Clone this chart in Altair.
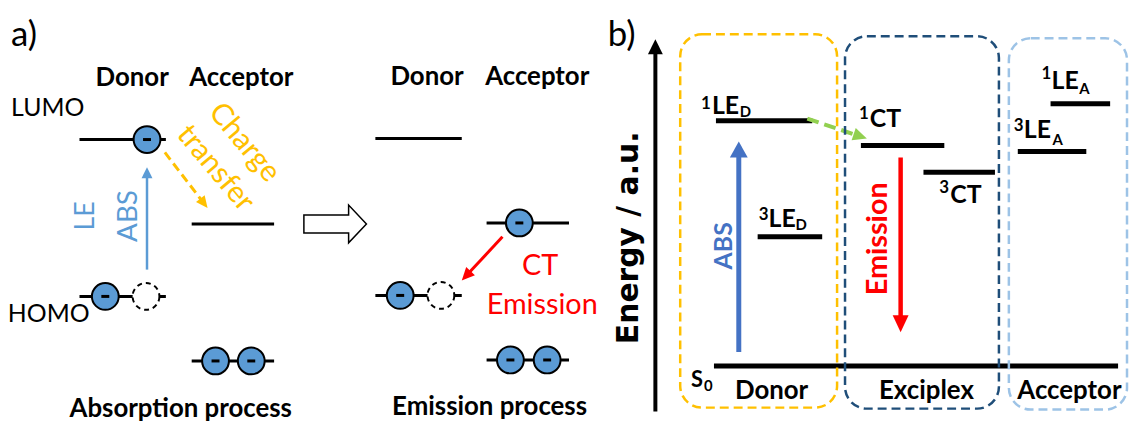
import math
import altair as alt
import pandas as pd

# ---------------- data (pixel-like diagram coordinates) ----------------
# energy-level bars
level_x1 = [80, 193, 80, 193, 378, 490, 378, 490, 721, 763, 867, 930, 1058, 1025, 719]
level_x2 = [167, 276, 167, 276, 465, 573, 465, 573, 818, 828, 951, 1002, 1118, 1094, 1126]
level_y = [139, 224, 297, 362, 138, 223, 296, 361, 120, 237, 145, 172, 103, 151, 367]
level_w = [3, 3, 3, 3, 3, 3, 3, 3, 5, 5, 5, 5, 5, 5, 5]

# electrons (filled) and holes (dashed)
elec_x = [148, 106, 217, 253, 523, 403, 514, 551]
elec_y = [139, 297, 362, 362, 223, 296, 361, 361]
hole_x = [147, 444]
hole_y = [297, 296]

# arrows: start -> tip
arrow_x1 = [148, 166, 506, 660, 744, 907, 813]
arrow_y1 = [270, 152, 237, 413, 353, 157, 118]
arrow_x2 = [148, 209, 465, 660, 744, 907, 873]
arrow_y2 = [167, 208, 281, 38, 141, 333, 138]
arrow_color = ["#5b9bd5", "#ffc000", "#ff0000", "#000000", "#4472c4", "#ff0000", "#92d050"]
arrow_shaft = [2.5, 3, 3, 4, 5, 4.5, 4]
arrow_head_len = [11, 12, 13, 15, 16, 17, 14]
arrow_head_wid = [11, 11, 12, 15, 18, 16, 13]
arrow_dash = [None, [9, 5], None, None, None, None, [12, 6]]

# open block arrow (process transition)
block_x = [337.5]
block_y = [224]

# dashed rounded boxes
box_x1 = [685, 851, 1016]
box_x2 = [843, 1006, 1135]
box_y1 = [33, 35, 37]
box_y2 = [409, 410, 411]
box_color = ["#ffc000", "#1f4e79", "#9dc3e6"]

# texts
text_label = [
    "a)", "Donor", "Acceptor", "LUMO", "HOMO", "Charge", "transfer", "LE", "ABS",
    "Donor", "Acceptor", "CT", "Emission", "Absorption process", "Emission process",
    "b)", "Energy / a.u.", "ABS", "Emission",
    "1", "LE", "D", "3", "LE", "D", "1", "CT", "3", "CT",
    "1", "LE", "A", "3", "LE", "A", "S", "0",
    "Donor", "Exciplex", "Acceptor",
]
text_x = [
    11, 133, 243, 48, 49, 246, 217, 95, 138,
    430, 541, 544, 546, 182, 493,
    612, 642, 737, 893,
    706, 717, 745, 764, 774, 801, 865, 876, 946, 957,
    1049, 1059, 1087, 1021, 1031, 1060, 696, 709,
    777, 933, 1077,
]
text_y = [
    45, 85, 85, 115, 323, 142, 168, 216, 216,
    84, 84, 275, 315, 418, 416,
    45, 238, 246, 239,
    108, 113, 116, 220, 227, 230, 118, 126, 193, 203,
    78, 88, 93, 130, 137, 145, 388, 392,
    400, 400, 400,
]
text_size = [
    35, 26, 26, 25, 25, 30, 30, 27, 28,
    26, 26, 29, 29, 26, 26,
    35, 30, 25, 29,
    17, 25, 15, 17, 25, 15, 17, 25, 17, 25,
    17, 25, 15, 17, 25, 15, 22, 15,
    26, 26, 26,
]
text_color = (
    ["#000000"] * 5 + ["#ffc000"] * 2 + ["#5b9bd5"] * 2
    + ["#000000"] * 2 + ["#ff0000"] * 2 + ["#000000"] * 2
    + ["#000000", "#000000", "#4472c4", "#ff0000"]
    + ["#000000"] * 21
)
text_angle = (
    [0] * 5 + [50, 50, 270, 270]
    + [0] * 6
    + [0, 270, 270, 270]
    + [0] * 21
)
text_bold = (
    [False, True, True, False, False, False, False, False, False]
    + [True, True, False, False, True, True]
    + [False, True, True, True]
    + [True] * 21
)
text_align = (
    ["left"] + ["center"] * 14
    + ["left", "center", "center", "center"]
    + ["left"] * 18 + ["center"] * 3
)
text_base = (
    ["alphabetic"] * 5 + ["middle", "middle"] + ["alphabetic"] * 12
    + ["alphabetic"] * 21
)
text_font = ["Lato"] * 16 + ["DejaVu Sans"] + ["Lato"] * 23

# ---------------- chart ----------------
XS = alt.Scale(domain=[8, 1137], nice=False, zero=False)
YS = alt.Scale(domain=[8, 423], nice=False, zero=False, reverse=True)


def ex(f):
    return alt.X(f, type="quantitative", scale=XS, axis=None)


def ey(f):
    return alt.Y(f, type="quantitative", scale=YS, axis=None)


layers = []

# level bars
df_lv = pd.DataFrame({"x1": level_x1, "x2": level_x2, "y": level_y, "w": level_w})
layers.append(
    alt.Chart(df_lv).mark_rule(color="black").encode(
        x=ex("x1"), x2="x2", y=ey("y"), strokeWidth=alt.StrokeWidth("w:Q", scale=None)
    )
)

# arrows
for i in range(len(arrow_x1)):
    dx = arrow_x2[i] - arrow_x1[i]
    dy = arrow_y2[i] - arrow_y1[i]
    ln = math.hypot(dx, dy)
    ux, uy = dx / ln, dy / ln
    L = arrow_head_len[i]
    ex_end = arrow_x2[i] - ux * L * 0.85
    ey_end = arrow_y2[i] - uy * L * 0.85
    df_s = pd.DataFrame({"x1": [arrow_x1[i]], "y1": [arrow_y1[i]], "x2": [ex_end], "y2": [ey_end]})
    rule_kw = dict(color=arrow_color[i], strokeWidth=arrow_shaft[i])
    if arrow_dash[i] is not None:
        rule_kw["strokeDash"] = arrow_dash[i]
    layers.append(
        alt.Chart(df_s).mark_rule(**rule_kw).encode(x=ex("x1"), y=ey("y1"), x2="x2", y2="y2")
    )
    ang = math.degrees(math.atan2(dx, -dy)) % 360
    w = arrow_head_wid[i] / 2 / L
    path = f"M0,0 L{-w:.3f},1 L{w:.3f},1 Z"
    df_h = pd.DataFrame({"x": [arrow_x2[i]], "y": [arrow_y2[i]]})
    layers.append(
        alt.Chart(df_h).mark_point(
            shape=path, size=(2 * L) ** 2, filled=True, color=arrow_color[i],
            opacity=1, angle=ang
        ).encode(x=ex("x"), y=ey("y"))
    )

# block arrow
block_path = "M-1,-0.286 L0.43,-0.286 L0.43,-0.603 L1,0 L0.43,0.603 L0.43,0.286 L-1,0.286 Z"
layers.append(
    alt.Chart(pd.DataFrame({"x": block_x, "y": block_y})).mark_point(
        shape=block_path, size=63 ** 2, fill="white", stroke="black", strokeWidth=1.5,
        filled=True, opacity=1
    ).encode(x=ex("x"), y=ey("y"))
)

# electrons
df_e = pd.DataFrame({"x": elec_x, "y": elec_y})
layers.append(
    alt.Chart(df_e).mark_point(
        shape="circle", size=729, filled=True, fill="#5b9bd5", stroke="black",
        strokeWidth=2, opacity=1
    ).encode(x=ex("x"), y=ey("y"))
)
layers.append(
    alt.Chart(df_e).mark_point(
        shape="M-1,-0.375 L1,-0.375 L1,0.375 L-1,0.375 Z", size=64, filled=True,
        color="black", opacity=1
    ).encode(x=ex("x"), y=ey("y"))
)
df_hole = pd.DataFrame({"x": hole_x, "y": hole_y})
layers.append(
    alt.Chart(df_hole).mark_point(
        shape="circle", size=729, filled=True, fill="white", stroke="black",
        strokeWidth=2, strokeDash=[5, 4], opacity=1
    ).encode(x=ex("x"), y=ey("y"))
)

# texts
df_t = pd.DataFrame({
    "label": text_label, "x": text_x, "y": text_y, "size": text_size,
    "color": text_color, "angle": text_angle, "bold": text_bold,
    "align": text_align, "base": text_base, "font": text_font,
})
for (bold, align, base, font), g in df_t.groupby(["bold", "align", "base", "font"]):
    layers.append(
        alt.Chart(g).mark_text(
            font=font, fontWeight="bold" if bold else "normal", align=align, baseline=base
        ).encode(
            x=ex("x"), y=ey("y"), text="label:N",
            size=alt.Size("size:Q", scale=None),
            color=alt.Color("color:N", scale=None),
            angle=alt.Angle("angle:Q", scale=None),
        )
    )

# dashed boxes
df_b = pd.DataFrame({"x1": box_x1, "x2": box_x2, "y1": box_y1, "y2": box_y2, "c": box_color})
layers.append(
    alt.Chart(df_b).mark_rect(
        fillOpacity=0, strokeWidth=2.5, strokeDash=[9, 5], cornerRadius=22
    ).encode(
        x=ex("x1"), x2="x2", y=ey("y1"), y2="y2", stroke=alt.Stroke("c:N", scale=None)
    )
)

chart = alt.layer(*layers).properties(
    width=1129, height=415, padding=0, autosize=alt.AutoSizeParams(type="none"),
    background="white",
).configure_view(stroke=None)

chart.save("out.html", embed_options={"renderer": "svg", "actions": False})
